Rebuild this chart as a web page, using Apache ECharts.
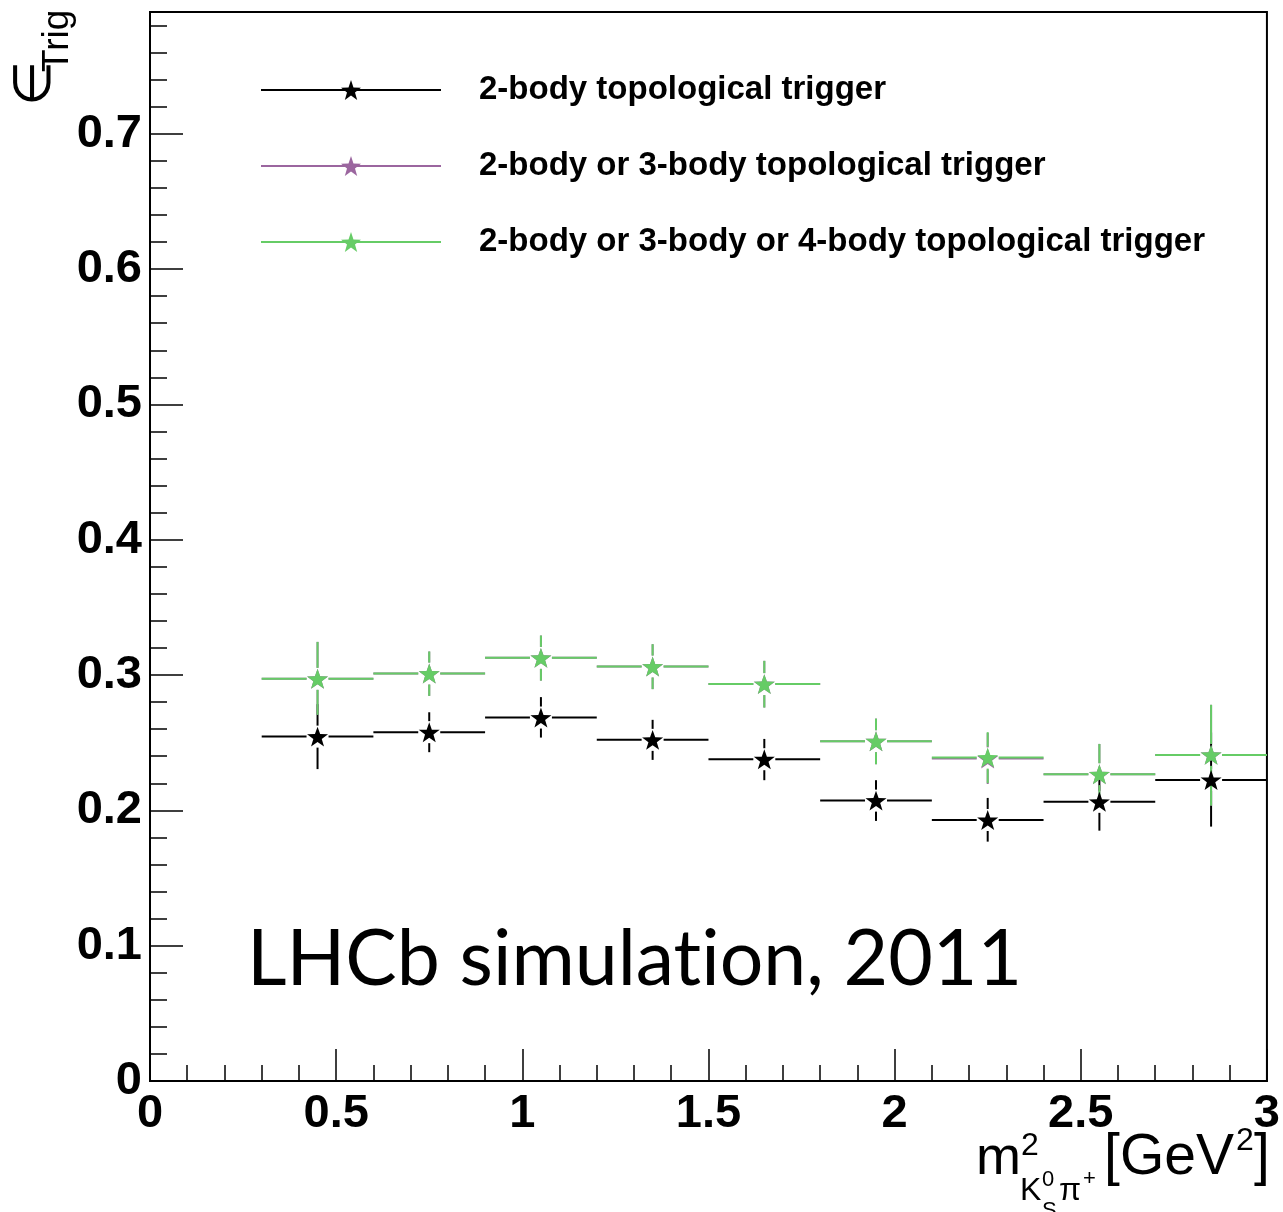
<!DOCTYPE html>
<html>
<head>
<meta charset="utf-8">
<script src="https://cdn.jsdelivr.net/npm/echarts@6/dist/echarts.min.js"></script>
<style>html,body{margin:0;padding:0;background:#fff;}#main{width:1283px;height:1212px;}</style>
</head>
<body>
<div id="main"></div>
<script>
// ---- data ----
const binCenters   = [0.45, 0.75, 1.05, 1.35, 1.65, 1.95, 2.25, 2.55, 2.85];
const binHalfWidth = [0.15, 0.15, 0.15, 0.15, 0.15, 0.15, 0.15, 0.15, 0.15];

const eff2      = [0.2545, 0.2578, 0.2686, 0.2521, 0.2378, 0.2072, 0.1929, 0.2063, 0.2225];
const eff2ErrLo = [0.0240, 0.0148, 0.0148, 0.0148, 0.0155, 0.0150, 0.0160, 0.0213, 0.0345];
const eff2ErrHi = [0.0240, 0.0147, 0.0151, 0.0148, 0.0150, 0.0151, 0.0163, 0.0210, 0.0350];

const eff23      = [0.2972, 0.3011, 0.3127, 0.3063, 0.2933, 0.2511, 0.2384, 0.2267, 0.2410];
const eff23ErrLo = [0.0266, 0.0165, 0.0168, 0.0167, 0.0173, 0.0170, 0.0189, 0.0222, 0.0375];
const eff23ErrHi = [0.0273, 0.0163, 0.0165, 0.0165, 0.0172, 0.0167, 0.0188, 0.0224, 0.0370];

const eff234      = [0.2972, 0.3011, 0.3127, 0.3063, 0.2933, 0.2511, 0.2390, 0.2267, 0.2410];
const eff234ErrLo = [0.0266, 0.0165, 0.0168, 0.0167, 0.0173, 0.0170, 0.0189, 0.0222, 0.0375];
const eff234ErrHi = [0.0273, 0.0163, 0.0165, 0.0165, 0.0172, 0.0167, 0.0188, 0.0224, 0.0370];

const seriesNames = [
  '2-body topological trigger',
  '2-body or 3-body topological trigger',
  '2-body or 3-body or 4-body topological trigger'
];
const xTickLabels = ['0', '0.5', '1', '1.5', '2', '2.5', '3'];
const yTickLabels = ['0', '0.1', '0.2', '0.3', '0.4', '0.5', '0.6', '0.7'];

// ---- styling ----
const colors = ['#000000', '#9b669f', '#66cc66'];
const STAR = 'path://M0,-10L2.35,-3.24L9.51,-3.09L3.80,1.24L5.88,8.09L0,4.0L-5.88,8.09L-3.80,1.24L-9.51,-3.09L-2.35,-3.24Z';
const FONT = '"Liberation Sans", Arial, Helvetica, sans-serif';

function errData(vals, lo, hi) {
  return binCenters.map((x, i) => [x, vals[i], binHalfWidth[i], lo[i], hi[i]]);
}
function ptData(vals) {
  return binCenters.map((x, i) => [x, vals[i]]);
}
function makeErrRender(color) {
  return function (params, api) {
    const x = api.value(0), y = api.value(1), hw = api.value(2), lo = api.value(3), hi = api.value(4);
    const c = api.coord([x, y]);
    const l = api.coord([x - hw, y]);
    const r = api.coord([x + hw, y]);
    const t = api.coord([x, y + hi]);
    const b = api.coord([x, y - lo]);
    const gap = 11;
    const st = { stroke: color, lineWidth: 2 };
    const ch = [];
    if (c[0] - l[0] > gap) ch.push({ type: 'line', shape: { x1: l[0], y1: c[1], x2: c[0] - gap, y2: c[1] }, style: st });
    if (r[0] - c[0] > gap) ch.push({ type: 'line', shape: { x1: c[0] + gap, y1: c[1], x2: r[0], y2: c[1] }, style: st });
    if (c[1] - t[1] > gap) ch.push({ type: 'line', shape: { x1: c[0], y1: t[1], x2: c[0], y2: c[1] - gap }, style: st });
    if (b[1] - c[1] > gap) ch.push({ type: 'line', shape: { x1: c[0], y1: c[1] + gap, x2: c[0], y2: b[1] }, style: st });
    return { type: 'group', children: ch };
  };
}
function fmtTick(v, list) {
  const s = String(Math.round(v * 1000) / 1000);
  return list.indexOf(s) >= 0 ? s : '';
}

const sets = [
  [eff2, eff2ErrLo, eff2ErrHi],
  [eff23, eff23ErrLo, eff23ErrHi],
  [eff234, eff234ErrLo, eff234ErrHi]
];
const series = [];
sets.forEach((s, k) => {
  series.push({
    type: 'custom', name: 'err' + k, xAxisIndex: 0, yAxisIndex: 0,
    renderItem: makeErrRender(colors[k]), data: errData(s[0], s[1], s[2]),
    encode: { x: 0, y: 1 }, silent: true, clip: false
  });
  series.push({
    type: 'line', name: seriesNames[k], xAxisIndex: 0, yAxisIndex: 0,
    data: ptData(s[0]), symbol: STAR, symbolSize: 21, symbolKeepAspect: true, showSymbol: true,
    lineStyle: { color: colors[k], width: 2, opacity: 0 },
    itemStyle: { color: colors[k] }, silent: true
  });
});

const chart = echarts.init(document.getElementById('main'), null, { renderer: 'canvas' });
chart.setOption({
  animation: false,
  backgroundColor: '#ffffff',
  grid: { left: 150, right: 15, top: 12, bottom: 131, show: true, borderColor: '#000', borderWidth: 2, backgroundColor: 'transparent' },
  legend: {
    data: seriesNames, orient: 'vertical', left: 260, top: 73.5, padding: 0,
    itemWidth: 180, itemHeight: 25, itemGap: 43, selectedMode: false,
    lineStyle: { opacity: 1, width: 2 },
    textStyle: { fontFamily: FONT, fontWeight: 'bold', fontSize: 33, color: '#000', lineHeight: 25, padding: [0, 0, 0, 33] }
  },
  xAxis: [
    { type: 'value', min: 0, max: 3, interval: 0.1, position: 'bottom',
      axisLine: { show: true, lineStyle: { color: '#000', width: 2 } },
      axisTick: { show: true, inside: true, length: 16, lineStyle: { color: '#000', width: 1.5 } },
      splitLine: { show: false },
      axisLabel: { show: true, margin: 10, color: '#000', fontFamily: FONT, fontWeight: 'bold', fontSize: 47,
        formatter: v => fmtTick(v, xTickLabels) } },
    { type: 'value', min: 0, max: 3, interval: 0.5, position: 'bottom',
      axisLine: { show: false }, splitLine: { show: false }, axisLabel: { show: false },
      axisTick: { show: true, inside: true, length: 32, lineStyle: { color: '#000', width: 1.5 } } }
  ],
  yAxis: [
    { type: 'value', min: 0, max: 0.79, interval: 0.02, position: 'left',
      axisLine: { show: true, lineStyle: { color: '#000', width: 2 } },
      axisTick: { show: true, inside: true, length: 17, lineStyle: { color: '#000', width: 1.5 } },
      splitLine: { show: false },
      axisLabel: { show: true, margin: 8, color: '#000', fontFamily: FONT, fontWeight: 'bold', fontSize: 47,
        formatter: v => fmtTick(v, yTickLabels) } },
    { type: 'value', min: 0, max: 0.79, interval: 0.1, position: 'left',
      axisLine: { show: false }, splitLine: { show: false }, axisLabel: { show: false },
      axisTick: { show: true, inside: true, length: 33, lineStyle: { color: '#000', width: 1.5 } } }
  ],
  series: series,
  graphic: [
    { type: 'text', x: 247, y: 999, style: { text: 'LHCb simulat\u200Cion, 2011', font: '77px Lato', fill: '#000', verticalAlign: 'bottom' } },
    // y-axis title: epsilon_Trig (rotated)
    { type: 'text', x: 62, y: 106, rotation: Math.PI / 2, style: { text: '\u2208', font: '52px ' + FONT, fill: '#000', align: 'left', verticalAlign: 'bottom' } },
    { type: 'text', x: 76, y: 72, rotation: Math.PI / 2, style: { text: 'Trig', font: '37px ' + FONT, fill: '#000', align: 'left', verticalAlign: 'bottom' } },
    // x-axis title: m^2_{K^0_S pi^+} [GeV^2]
    { type: 'text', x: 976, y: 1186, style: { text: 'm', font: '54px ' + FONT, fill: '#000', verticalAlign: 'bottom' } },
    { type: 'text', x: 1021, y: 1162, style: { text: '2', font: '32px ' + FONT, fill: '#000', verticalAlign: 'bottom' } },
    { type: 'text', x: 1020, y: 1207, style: { text: 'K', font: '32px ' + FONT, fill: '#000', verticalAlign: 'bottom' } },
    { type: 'text', x: 1042, y: 1191, style: { text: '0', font: '22px ' + FONT, fill: '#000', verticalAlign: 'bottom' } },
    { type: 'text', x: 1042, y: 1222, style: { text: 'S', font: '22px ' + FONT, fill: '#000', verticalAlign: 'bottom' } },
    { type: 'text', x: 1059, y: 1207, style: { text: '\u03c0', font: '32px ' + FONT, fill: '#000', verticalAlign: 'bottom' } },
    { type: 'text', x: 1083, y: 1190, style: { text: '+', font: '22px ' + FONT, fill: '#000', verticalAlign: 'bottom' } },
    { type: 'text', x: 1234, y: 1187, style: { text: '[GeV', font: '57px ' + FONT, fill: '#000', align: 'right', verticalAlign: 'bottom' } },
    { type: 'text', x: 1236, y: 1157, style: { text: '2', font: '32px ' + FONT, fill: '#000', verticalAlign: 'bottom' } },
    { type: 'text', x: 1254, y: 1187, style: { text: ']', font: '57px ' + FONT, fill: '#000', verticalAlign: 'bottom' } }
  ]
});
</script>
</body>
</html>
